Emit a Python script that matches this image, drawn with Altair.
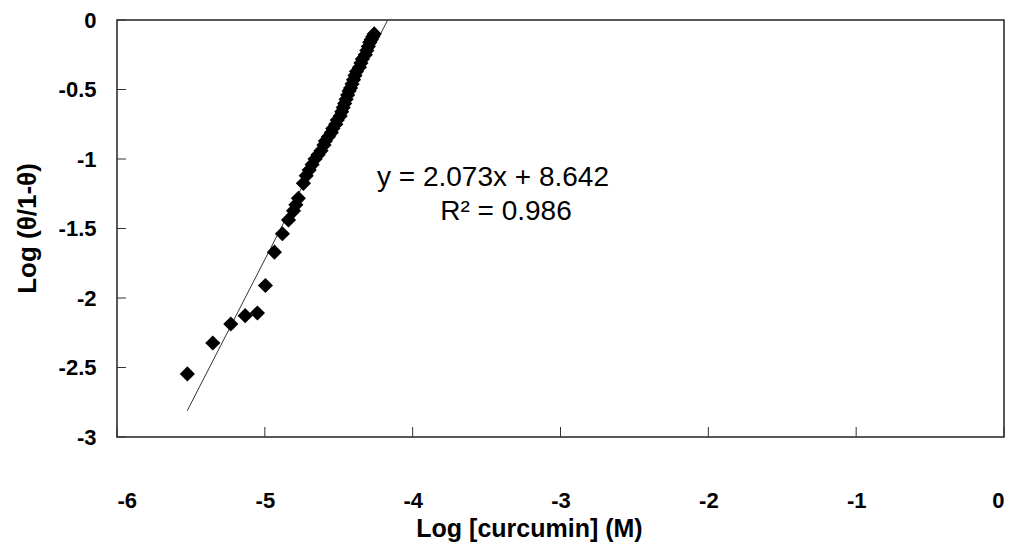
import altair as alt
import pandas as pd

# Measured points (Log [curcumin], Log(theta/1-theta))
log_conc = [
    -5.524, -5.352, -5.230, -5.133, -5.050, -4.996, -4.935, -4.881, -4.840,
    -4.806, -4.790, -4.773, -4.739,
    -4.72, -4.70, -4.68, -4.66, -4.64, -4.62, -4.60, -4.59, -4.57, -4.55,
    -4.54, -4.52, -4.51, -4.49, -4.48, -4.47, -4.46, -4.45, -4.44, -4.43,
    -4.42, -4.41, -4.40, -4.39, -4.38, -4.36, -4.35, -4.34, -4.32, -4.31,
    -4.30, -4.29, -4.28, -4.27, -4.26,
]
log_theta = [
    -2.546, -2.324, -2.187, -2.127, -2.108, -1.910, -1.670, -1.538, -1.438,
    -1.373, -1.330, -1.283, -1.175,
    -1.12, -1.08, -1.04, -1.00, -0.97, -0.94, -0.90, -0.87, -0.84, -0.81,
    -0.78, -0.75, -0.72, -0.69, -0.66, -0.63, -0.60, -0.57, -0.54, -0.51,
    -0.49, -0.46, -0.43, -0.40, -0.37, -0.34, -0.31, -0.28, -0.25, -0.22,
    -0.19, -0.16, -0.14, -0.12, -0.10,
]

slope = 2.073
intercept = 8.642
fit_x = [-5.525, -4.169]

x_ticks = [-6, -5, -4, -3, -2, -1, 0]
y_ticks = [0, -0.5, -1, -1.5, -2, -2.5, -3]

eq_lines = ["y = 2.073x + 8.642", "R\u00b2 = 0.986"]

W, H = 887, 417
FONT = "Liberation Sans"

pts = pd.DataFrame({"x": log_conc, "y": log_theta})
fit = pd.DataFrame({"x": fit_x, "y": [slope * v + intercept for v in fit_x]})

xs = alt.Scale(domain=[-6, 0], nice=False, zero=False)
ys = alt.Scale(domain=[-3, 0], nice=False, zero=False)

x_axis = alt.Axis(
    values=x_ticks, ticks=False, domain=False, grid=False,
    labelExpr="'' + datum.value", labelFont=FONT, labelFontWeight="bold",
    labelFontSize=22, labelColor="#000", labelPadding=53,
    title="Log [curcumin] (M)", titleFont=FONT, titleFontWeight="bold",
    titleFontSize=25, titleColor="#000", titleX=412, titleY=99,
    titleAlign="center", titleBaseline="alphabetic",
)
y_axis = alt.Axis(
    values=y_ticks, ticks=False, domain=False, grid=False,
    labelExpr="'' + datum.value", labelFont=FONT, labelFontWeight="bold",
    labelFontSize=22, labelColor="#000", labelPadding=21,
    title="Log (\u03b8/1-\u03b8)", titleFont=FONT, titleFontWeight="bold",
    titleFontSize=26, titleColor="#000", titleX=-90, titleY=208,
    titleAlign="center", titleBaseline="middle", titleAngle=270,
)

fit_line = alt.Chart(fit).mark_line(color="#333", strokeWidth=1).encode(
    x=alt.X("x:Q", scale=xs, axis=x_axis),
    y=alt.Y("y:Q", scale=ys, axis=y_axis),
)

points = alt.Chart(pts).mark_point(
    shape="diamond", filled=True, color="#000", size=230, opacity=1
).encode(x=alt.X("x:Q", scale=xs), y=alt.Y("y:Q", scale=ys))

xt = alt.Chart(pd.DataFrame({"v": x_ticks})).mark_rule(color="#333", strokeWidth=1).encode(
    x=alt.X("v:Q", scale=xs), y=alt.value(H - 10), y2=alt.value(H)
)
yt = alt.Chart(pd.DataFrame({"v": y_ticks})).mark_rule(color="#333", strokeWidth=1).encode(
    y=alt.Y("v:Q", scale=ys), x=alt.value(0), x2=alt.value(9)
)

txt = alt.Chart(pd.DataFrame({"t": eq_lines, "dx": [376, 389], "dy": [158, 192]})).mark_text(
    font=FONT, fontSize=28, color="#000", align="center", baseline="middle"
).encode(text="t:N", x=alt.X("dx:Q", scale=None), y=alt.Y("dy:Q", scale=None))

chart = alt.layer(xt, yt, fit_line, points, txt).properties(
    width=W, height=H,
    autosize=alt.AutoSizeParams(type="none"),
    padding={"left": 117, "top": 20, "right": 12, "bottom": 109},
    background="white",
).configure_view(stroke="#222", strokeWidth=1.5)

chart.save("out.html", embed_options={"renderer": "svg", "actions": False})
